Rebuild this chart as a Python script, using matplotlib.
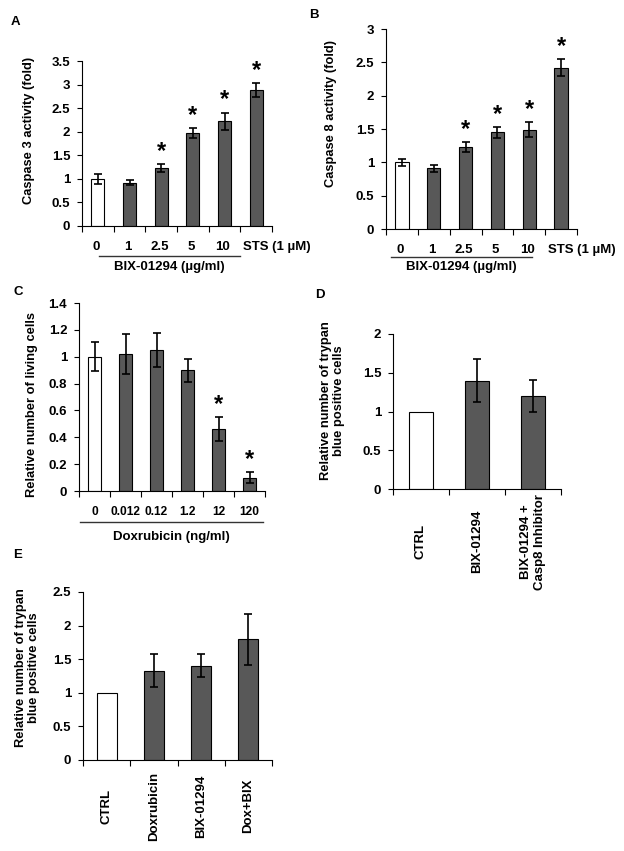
import matplotlib
matplotlib.use("Agg")
import matplotlib.pyplot as plt
import numpy as np

plt.rcParams['font.family'] = ['Liberation Sans', 'DejaVu Sans']
plt.rcParams['font.weight'] = 'bold'
plt.rcParams['font.size'] = 9

W, H = 624, 851

# panel A - caspase 3
a_labels = ['0', '1', '2.5', '5', '10', 'STS (1 µM)']
a_vals = [1.0, 0.92, 1.23, 1.97, 2.22, 2.88]
a_err = [0.1, 0.06, 0.08, 0.1, 0.18, 0.15]
a_star = [False, False, True, True, True, True]

# panel B - caspase 8
b_labels = ['0', '1', '2.5', '5', '10', 'STS (1 µM)']
b_vals = [1.0, 0.91, 1.23, 1.45, 1.49, 2.42]
b_err = [0.05, 0.05, 0.07, 0.08, 0.11, 0.13]
b_star = [False, False, True, True, True, True]

# panel C - living cells
c_labels = ['0', '0.012', '0.12', '1.2', '12', '120']
c_vals = [1.0, 1.02, 1.05, 0.9, 0.46, 0.1]
c_err = [0.11, 0.15, 0.13, 0.085, 0.09, 0.04]
c_star = [False, False, False, False, True, True]

# panel D - trypan blue
d_labels = ['CTRL', 'BIX-01294', 'BIX-01294 +\nCasp8 Inhibitor']
d_vals = [1.0, 1.4, 1.2]
d_err = [0, 0.28, 0.21]

# panel E - trypan blue
e_labels = ['CTRL', 'Doxrubicin', 'BIX-01294', 'Dox+BIX']
e_vals = [1.0, 1.33, 1.4, 1.8]
e_err = [0, 0.25, 0.17, 0.38]

fig = plt.figure(figsize=(W / 100, H / 100), dpi=100)


def make_ax(left, right, top, bottom):
    return fig.add_axes([left / W, 1 - bottom / H, (right - left) / W, (bottom - top) / H])


def draw_panel(ax, vals, err, labels, ymax, ystep, rot=False, lab_y=0.0, lab_shift=0.0,
               lab_size=9.5, stars=None, ylab='', lab_xy=(0, 0)):
    n = len(vals)
    x = np.arange(n) + 0.5
    colors = ['white'] + ['#585858'] * (n - 1)
    ax.bar(x, vals, width=0.42, color=colors, edgecolor='black', linewidth=0.8, zorder=2)
    yerr = np.array(err)
    mask = yerr > 0
    ax.errorbar(x[mask], np.array(vals)[mask], yerr=yerr[mask], fmt='none', ecolor='black',
                elinewidth=1.2, capsize=3, capthick=1.2, zorder=3)
    if stars is not None:
        for xi, v, e, s in zip(x, vals, err, stars):
            if s:
                ax.annotate('*', (xi, v + e), xytext=(0, 1), textcoords='offset points',
                            ha='center', va='bottom', fontsize=17, fontweight='bold')
    ax.set_xlim(0, n)
    ax.set_ylim(0, ymax)
    ticks = np.arange(0, ymax + 1e-9, ystep)
    ax.set_yticks(ticks)
    ax.set_yticklabels([f'{t:g}' for t in ticks])
    ax.set_xticks(np.arange(n + 1))
    ax.set_xticklabels([])
    tr = ax.get_xaxis_transform()
    for xi, lab in zip(x, labels):
        if rot:
            ax.text(xi, lab_y, lab, transform=tr, rotation=90, ha='center', va='center',
                    fontsize=lab_size, fontweight='bold', linespacing=1.15)
        elif lab.startswith('STS'):
            ax.annotate(lab, (xi - 0.42, 0), xycoords=tr, xytext=(0, -15),
                        textcoords='offset points', ha='left', va='center',
                        fontsize=lab_size, fontweight='bold')
        else:
            ax.annotate(lab, (xi + lab_shift, 0), xycoords=tr, xytext=(0, -15),
                        textcoords='offset points', ha='center', va='center',
                        fontsize=lab_size, fontweight='bold')
    ax.tick_params(axis='x', which='major', length=4, width=0.8, direction='out')
    ax.tick_params(axis='y', length=3.5, width=0.8, direction='out', pad=5, labelsize=9.5)
    for s in ['top', 'right']:
        ax.spines[s].set_visible(False)
    for s in ['left', 'bottom']:
        ax.spines[s].set_linewidth(0.8)
    ax.set_ylabel(ylab, fontsize=9.3, fontweight='bold', linespacing=1.1)
    ax.yaxis.set_label_coords(*lab_xy)


def bracket(ax, x0, x1, yline, ylab, text):
    tr = ax.get_xaxis_transform()
    ax.plot([x0, x1], [yline, yline], color='#333333', lw=1.0, transform=tr, clip_on=False)
    ax.text((x0 + x1) / 2, ylab, text, transform=tr, ha='center', va='center',
            fontsize=9.5, fontweight='bold')


axA = make_ax(82, 272, 61, 226)
draw_panel(axA, a_vals, a_err, a_labels, 3.5, 0.5, lab_shift=-0.06, stars=a_star,
           ylab='Caspase 3 activity (fold)', lab_xy=(-0.245, 0.58))
bracket(axA, 0.54, 4.99, -0.182, -0.25, 'BIX-01294 (µg/ml)')

axB = make_ax(386, 577, 29, 229)
draw_panel(axB, b_vals, b_err, b_labels, 3, 0.5, lab_shift=-0.06, stars=b_star,
           ylab='Caspase 8 activity (fold)', lab_xy=(-0.257, 0.58))
bracket(axB, 0.16, 4.59, -0.14, -0.19, 'BIX-01294 (µg/ml)')

axC = make_ax(79, 265, 303, 491)
draw_panel(axC, c_vals, c_err, c_labels, 1.4, 0.2, lab_size=8.6, stars=c_star,
           ylab='Relative number of living cells', lab_xy=(-0.22, 0.46))
bracket(axC, 0.03, 5.94, -0.165, -0.245, 'Doxrubicin (ng/ml)')

axD = make_ax(393, 561, 334, 489)
draw_panel(axD, d_vals, d_err, d_labels, 2, 0.5, rot=True, lab_y=-0.34,
           ylab='Relative number of trypan\nblue positive cells', lab_xy=(-0.286, 0.57))

axE = make_ax(83, 272, 592, 760)
draw_panel(axE, e_vals, e_err, e_labels, 2.5, 0.5, rot=True, lab_y=-0.274,
           ylab='Relative number of trypan\nblue positive cells', lab_xy=(-0.228, 0.55))

for lab, (px, py) in zip('ABCDE', [(15, 22), (314, 15), (18, 292), (320, 295), (18, 555)]):
    fig.text(px / W, 1 - py / H, lab, ha='center', va='center', fontsize=9.5, fontweight='bold')

fig.savefig('out.png', dpi=100, facecolor='white')
